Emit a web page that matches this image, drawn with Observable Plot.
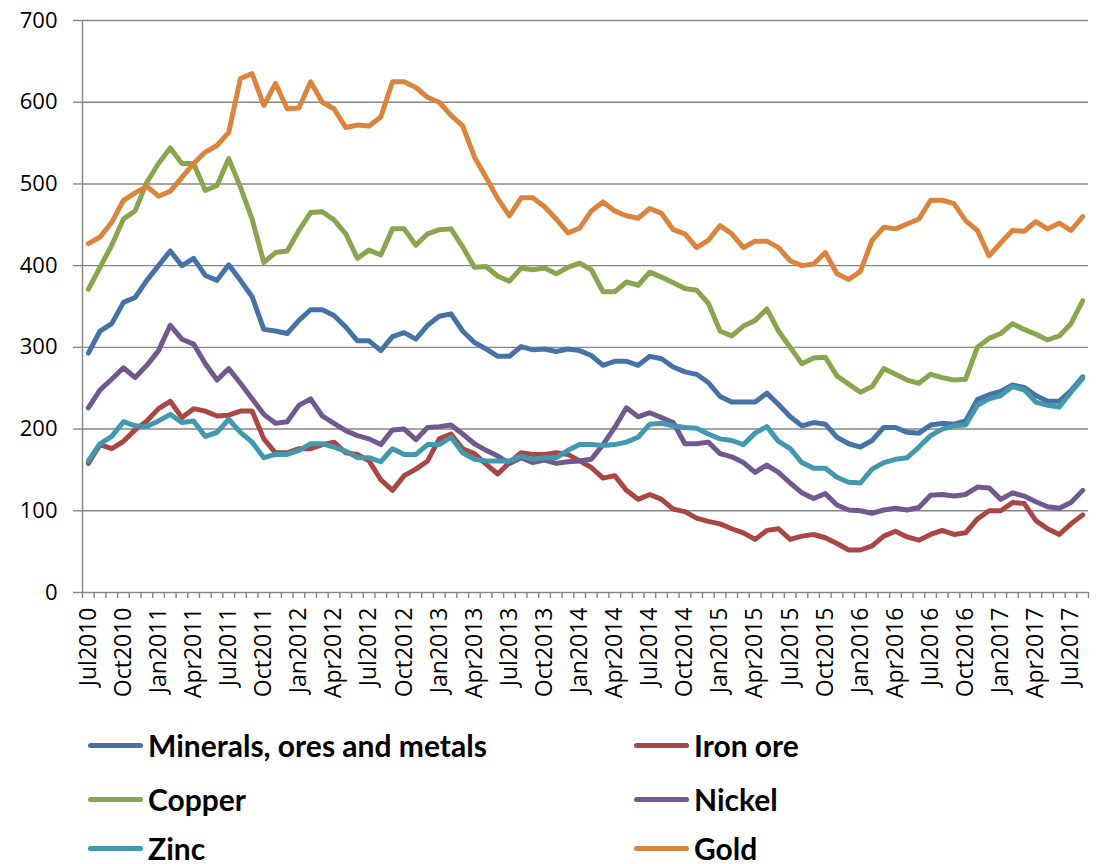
<!DOCTYPE html>
<html>
<head>
<meta charset="utf-8">
<script src="https://cdn.jsdelivr.net/npm/d3@7"></script>
<script src="https://cdn.jsdelivr.net/npm/@observablehq/plot@0.6"></script>
<style>
  html, body { margin: 0; padding: 0; background: #fff; }
  #chart { width: 1097px; }
  .legend { position: relative; width: 1097px; height: 149px; font-family: Lato, sans-serif; font-weight: 700; font-size: 30px; line-height: 1; color: #000; }
  .item { position: absolute; display: flex; align-items: center; height: 30px; white-space: nowrap; }
  .sw { width: 55px; height: 5px; border-radius: 3px; margin-right: 5px; }
</style>
</head>
<body>
<div id="chart"></div>
<div class="legend" id="legend"></div>
<script>
// Monthly price indices, Jul 2010 – Aug 2017
const months = d3.utcMonths(new Date(Date.UTC(2010, 6, 1)), new Date(Date.UTC(2017, 8, 1)));

// Quarterly axis labels (every third month starting at Jul 2010)
const tickLabels = [
  "Jul2010", "Oct2010", "Jan2011", "Apr2011", "Jul2011", "Oct2011", "Jan2012", "Apr2012",
  "Jul2012", "Oct2012", "Jan2013", "Apr2013", "Jul2013", "Oct2013", "Jan2014", "Apr2014",
  "Jul2014", "Oct2014", "Jan2015", "Apr2015", "Jul2015", "Oct2015", "Jan2016", "Apr2016",
  "Jul2016", "Oct2016", "Jan2017", "Apr2017", "Jul2017"
];

const minerals = [
  293, 320, 329, 355, 361, 382, 400, 418, 400, 409, 388, 382, 401, 382, 362, 322, 320, 317, 333, 346,
  346, 339, 325, 308, 308, 296, 313, 318, 310, 327, 338, 341, 320, 306, 298, 289, 289, 301, 297, 298,
  295, 298, 296, 290, 278, 283, 283, 278, 289, 286, 276, 270, 267, 257, 240, 233, 233, 233, 244, 230,
  215, 204, 208, 206, 190, 182, 178, 186, 202, 202, 196, 195, 205, 207, 206, 210, 236, 242, 246, 254,
  251, 241, 234, 234, 247, 264
];
const ironOre = [
  158, 181, 176, 185, 199, 210, 225, 234, 214, 225, 222, 216, 217, 222, 222, 188, 171, 171, 176, 176,
  181, 184, 171, 169, 161, 138, 125, 143, 151, 161, 188, 194, 176, 170, 157, 145, 159, 171, 169, 169,
  171, 169, 161, 153, 140, 143, 125, 114, 120, 114, 102, 99, 91, 87, 84, 78, 73, 65, 76, 78,
  65, 69, 71, 67, 60, 52, 52, 57, 69, 75, 68, 64, 71, 76, 71, 73, 90, 100, 100, 110,
  109, 88, 78, 71, 84, 95
];
const copper = [
  371, 398, 425, 457, 467, 502, 525, 544, 525, 525, 492, 498, 531, 496, 457, 404, 416, 418, 443, 465,
  466, 456, 439, 409, 419, 413, 445, 445, 425, 439, 444, 445, 423, 398, 399, 387, 381, 397, 395, 397,
  390, 398, 403, 395, 368, 368, 380, 376, 392, 386, 379, 372, 370, 354, 320, 314, 326, 333, 347, 320,
  300, 280, 287, 288, 265, 255, 245, 252, 274, 267, 260, 256, 267, 263, 260, 261, 300, 311, 317, 329,
  322, 316, 309, 314, 329, 357
];
const nickel = [
  226, 248, 261, 275, 263, 278, 296, 327, 310, 304, 280, 260, 274, 256, 237, 218, 207, 209, 229, 237,
  216, 207, 198, 192, 188, 181, 199, 200, 187, 202, 203, 205, 194, 182, 174, 167, 158, 165, 159, 162,
  158, 160, 161, 163, 181, 202, 226, 215, 220, 214, 208, 182, 182, 184, 170, 166, 159, 147, 156, 147,
  134, 122, 115, 121, 107, 101, 100, 97, 101, 103, 101, 104, 119, 120, 118, 120, 129, 128, 114, 122,
  118, 111, 105, 103, 110, 125
];
const zinc = [
  161, 182, 191, 209, 204, 203, 210, 218, 208, 210, 191, 196, 212, 196, 184, 165, 169, 169, 174, 182,
  182, 178, 173, 165, 165, 160, 176, 169, 169, 181, 181, 190, 171, 163, 161, 161, 161, 167, 163, 165,
  165, 174, 181, 181, 180, 181, 184, 190, 206, 207, 204, 202, 201, 194, 188, 186, 181, 195, 203, 185,
  176, 159, 152, 152, 141, 135, 134, 151, 159, 163, 165, 178, 192, 200, 204, 205, 229, 237, 241, 252,
  248, 233, 229, 227, 245, 262
];
const gold = [
  427, 435, 453, 480, 489, 497, 485, 491, 508, 525, 539, 547, 563, 629, 635, 596, 623, 592, 593, 625,
  600, 592, 569, 572, 571, 582, 625, 625, 618, 606, 600, 584, 571, 533, 508, 482, 461, 483, 483, 472,
  457, 440, 446, 467, 478, 467, 461, 458, 470, 464, 444, 439, 422, 431, 449, 439, 422, 430, 430, 422,
  406, 400, 402, 416, 390, 383, 393, 431, 447, 445, 451, 457, 480, 480, 476, 455, 443, 412, 428, 443,
  442, 454, 445, 452, 443, 460
];

const seriesNames = ["Minerals, ores and metals", "Iron ore", "Copper", "Nickel", "Zinc", "Gold"];
const seriesValues = [minerals, ironOre, copper, nickel, zinc, gold];
const seriesColors = ["#4572A7", "#AA4643", "#89A54E", "#71588F", "#4198AF", "#DB843D"];

const n = months.length;
const grey = "#868686";
const labelIdx = tickLabels.map((_, k) => k * 3);
const boundaries = d3.range(n + 1).map(i => i - 0.5);

const lines = seriesValues.map((vals, s) =>
  Plot.line(vals, {
    x: (d, i) => i,
    y: d => d,
    stroke: seriesColors[s],
    strokeWidth: 5,
    strokeLinejoin: "round",
    strokeLinecap: "round"
  })
);

const chart = Plot.plot({
  width: 1097,
  height: 715,
  marginLeft: 82,
  marginRight: 9,
  marginTop: 20,
  marginBottom: 123,
  style: { fontFamily: "'Open Sans', sans-serif", fontSize: "23px", color: "#000", background: "#fff", overflow: "visible" },
  x: { type: "linear", domain: [-0.5, n - 0.5] },
  y: { domain: [0, 700] },
  marks: [
    Plot.gridY(d3.range(100, 701, 100), { stroke: grey, strokeOpacity: 1, strokeWidth: 1.4 }),
    Plot.ruleX([-0.5], { stroke: grey, strokeWidth: 1.4 }),
    Plot.ruleY([0], { stroke: grey, strokeWidth: 1.4 }),
    Plot.axisY(d3.range(0, 701, 100), { tickSize: 9, tickPadding: 16, stroke: grey, strokeWidth: 1.4, fill: "#000", label: null, fontSize: 22 }),
    Plot.axisX(boundaries, { tickSize: 6, tickFormat: () => "", stroke: grey, strokeWidth: 1.4, label: null }),
    Plot.axisX(labelIdx, { tickSize: 0, tickPadding: 15, tickRotate: -90, tickFormat: i => tickLabels[i / 3], fill: "#000", label: null, fontSize: 23 }),
    ...lines
  ]
});
document.getElementById("chart").appendChild(chart);

// Legend: two columns, three rows
const legend = document.getElementById("legend");
const colLeft = [88, 634];
const rowTop = [15, 69, 118];
seriesNames.forEach((name, k) => {
  const item = document.createElement("div");
  item.className = "item";
  item.style.left = colLeft[k % 2] + "px";
  item.style.top = rowTop[Math.floor(k / 2)] + "px";
  const sw = document.createElement("span");
  sw.className = "sw";
  sw.style.background = seriesColors[k];
  const label = document.createElement("span");
  label.textContent = name;
  item.appendChild(sw);
  item.appendChild(label);
  legend.appendChild(item);
});
</script>
</body>
</html>
